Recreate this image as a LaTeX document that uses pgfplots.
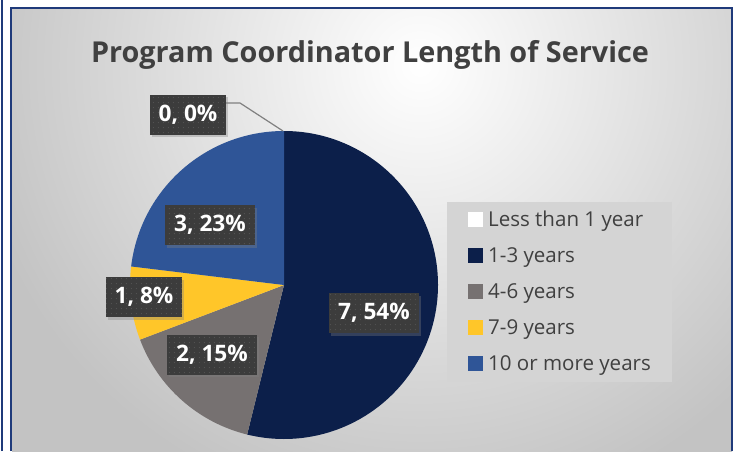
\documentclass[border=0pt]{standalone}
\usepackage{pgfplots}
\pgfplotsset{compat=1.18}
\usepackage{pgfplotstable}
\usepackage{fontspec}
\setmainfont{Open Sans}
\usetikzlibrary{patterns.meta,shadows}

\definecolor{navy}{HTML}{0C1F4A}
\definecolor{slgray}{HTML}{767171}
\definecolor{sunyellow}{HTML}{FFC629}
\definecolor{midblue}{HTML}{2F5597}
\definecolor{frameblue}{HTML}{1F3A7A}
\definecolor{txtgray}{HTML}{404040}
\definecolor{lblbox}{HTML}{3C3C3C}
\definecolor{lbldot}{HTML}{555555}
\definecolor{leggray}{HTML}{D4D4D4}
\definecolor{bgedge}{HTML}{C3C3C3}
\definecolor{leader}{HTML}{808080}

\tikzset{lbl/.style={fill=lblbox, text=white, font=\bfseries\fontsize{17}{20}\selectfont,
    minimum height=30pt, inner xsep=6.5pt, inner ysep=0pt,
    drop shadow={opacity=0.35, shadow xshift=1.5pt, shadow yshift=-2pt},
    postaction={pattern={Dots[distance=4pt, radius=0.45pt]}, pattern color=lbldot}}}

\pgfplotstableread[col sep=comma]{
label,value
Less than 1 year,0
1-3 years,7
4-6 years,2
7-9 years,1
10 or more years,3
}\piedata

\pgfdeclareradialshading{bgshade}{\pgfpoint{0bp}{0bp}}{color(0bp)=(white); color(19bp)=(bgedge); color(25bp)=(bgedge); color(50bp)=(bgedge)}

\begin{document}
\begin{tikzpicture}
\pgfplotstablegetelem{0}{value}\of\piedata \edef\vA{\pgfplotsretval}
\pgfplotstablegetelem{1}{value}\of\piedata \edef\vB{\pgfplotsretval}
\pgfplotstablegetelem{2}{value}\of\piedata \edef\vC{\pgfplotsretval}
\pgfplotstablegetelem{3}{value}\of\piedata \edef\vD{\pgfplotsretval}
\pgfplotstablegetelem{4}{value}\of\piedata \edef\vE{\pgfplotsretval}
\pgfmathsetmacro\tot{\vA+\vB+\vC+\vD+\vE}
\pgfmathsetmacro\aA{90}
\pgfmathsetmacro\aB{\aA-360*\vA/\tot}
\pgfmathsetmacro\aC{\aB-360*\vB/\tot}
\pgfmathsetmacro\aD{\aC-360*\vC/\tot}
\pgfmathsetmacro\aE{\aD-360*\vD/\tot}
\pgfmathsetmacro\aF{\aE-360*\vE/\tot}
\def\R{115.5pt}
\begin{axis}[
  x=0.75pt, y=0.75pt,
  xmin=0, xmax=737, ymin=0, ymax=451,
  hide axis, clip=false,
  legend cell align=left,
  legend style={at={(axis cs:468,250)}, anchor=north west, draw=none, fill=none,
    inner sep=0pt, row sep=0pt, column sep=3pt,
    font=\fontsize{15.4}{18}\selectfont, text=txtgray,
    nodes={inner xsep=1pt, inner ysep=0pt, text height=18.8pt, text depth=8.2pt}},
]
% page and chart background
\fill[white] (axis cs:0,0) rectangle (axis cs:737,451);
\begin{scope}
\clip (axis cs:12,0) rectangle (axis cs:732,443);
\shade[shading=bgshade] (axis cs:420,386) circle (450pt);
\end{scope}
% frame
\draw[frameblue, line width=1.5pt] (axis cs:2,0) -- (axis cs:2,451);
\draw[frameblue, line width=1.5pt] (axis cs:11,0) -- (axis cs:11,443) -- (axis cs:732,443) -- (axis cs:732,0);
% title
\node[anchor=base, text=txtgray, font=\bfseries\fontsize{21.6}{26}\selectfont] at (axis cs:370,389) {Program Coordinator Length of Service};
% pie slices
\fill[navy] (axis cs:284,166) -- ++(\aB:\R) arc[start angle=\aB, end angle=\aC, radius=\R] -- cycle;
\fill[slgray] (axis cs:284,166) -- ++(\aC:\R) arc[start angle=\aC, end angle=\aD, radius=\R] -- cycle;
\fill[sunyellow] (axis cs:284,166) -- ++(\aD:\R) arc[start angle=\aD, end angle=\aE, radius=\R] -- cycle;
\fill[midblue] (axis cs:284,166) -- ++(\aE:\R) arc[start angle=\aE, end angle=\aF, radius=\R] -- cycle;
% leader line
\draw[leader, line width=0.9pt] (axis cs:226,348) -- (axis cs:240,348) -- (axis cs:283,320);
% data labels
\node[lbl] at (axis cs:188,336.5) {0, 0\%};
\node[lbl] at (axis cs:210,226) {3, 23\%};
\node[lbl] at (axis cs:144,154) {1, 8\%};
\node[lbl] at (axis cs:212,96.5) {2, 15\%};
\node[lbl] at (axis cs:374,138) {7, 54\%};
% legend box
\fill[leggray] (axis cs:447,69) rectangle (axis cs:672,249);
\addlegendimage{legend image code/.code={\fill[white] (0pt,-5.25pt) rectangle (10.5pt,5.25pt);}}
\addlegendentry{Less than 1 year}
\addlegendimage{legend image code/.code={\fill[navy] (0pt,-5.25pt) rectangle (10.5pt,5.25pt);}}
\addlegendentry{1-3 years}
\addlegendimage{legend image code/.code={\fill[slgray] (0pt,-5.25pt) rectangle (10.5pt,5.25pt);}}
\addlegendentry{4-6 years}
\addlegendimage{legend image code/.code={\fill[sunyellow] (0pt,-5.25pt) rectangle (10.5pt,5.25pt);}}
\addlegendentry{7-9 years}
\addlegendimage{legend image code/.code={\fill[midblue] (0pt,-5.25pt) rectangle (10.5pt,5.25pt);}}
\addlegendentry{10 or more years}
\end{axis}
\pgfresetboundingbox
\path (0,0) rectangle (552.75pt,338.25pt);
\end{tikzpicture}
\end{document}
